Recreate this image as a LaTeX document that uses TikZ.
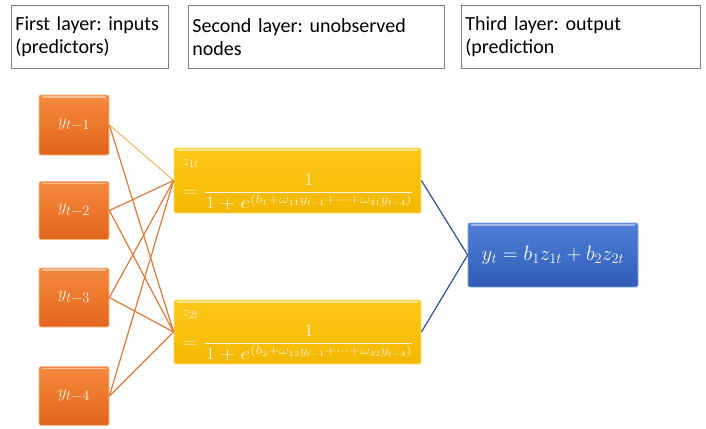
\documentclass[tikz,border=0pt]{standalone}
\usepackage{fontspec}
\usepackage{amsmath}
\usepackage{graphicx}
\setmainfont{Carlito}
\frenchspacing
\definecolor{hdrline}{HTML}{808080}
\definecolor{orgtop}{HTML}{F58A3E}
\definecolor{orgbot}{HTML}{E2641C}
\definecolor{orgline}{HTML}{DC7A3A}
\definecolor{orglight}{HTML}{F2B45A}
\definecolor{yeltop}{HTML}{FFC81A}
\definecolor{yelbot}{HTML}{F2B800}
\definecolor{blutop}{HTML}{4F7FD6}
\definecolor{blubot}{HTML}{2F5DB8}
\definecolor{bluline}{HTML}{2F4F8F}
\definecolor{boxtext}{HTML}{FFF3DC}
\tikzset{
  hdr/.style={draw=hdrline, line width=0.8pt, align=left, inner sep=4pt,
    font=\fontsize{20}{23}\selectfont, anchor=north west},
  inbox/.style={rounded corners=2pt, draw=orgtop!60!white, line width=0.8pt,
    top color=orgtop, bottom color=orgbot, minimum width=70pt, minimum height=60pt,
    text=boxtext, font=\fontsize{19}{22}\selectfont},
  hidbox/.style={rounded corners=2pt, draw=yeltop!60!white, line width=0.8pt,
    top color=yeltop, bottom color=yelbot, minimum width=247pt},
  outbox/.style={rounded corners=2pt, draw=blutop!70!white, line width=0.8pt,
    top color=blutop, bottom color=blubot, minimum width=170pt, minimum height=64pt,
    text=white, font=\fontsize{20}{24}\selectfont},
  eqtext/.style={text=boxtext, inner sep=0pt},
  olink/.style={draw=orgline, line width=1.2pt},
  olinklt/.style={draw=orglight, line width=1pt},
  blink/.style={draw=bluline, line width=1.2pt},
  shine/.style={line width=1.6pt, line cap=round}
}
\begin{document}
\begin{tikzpicture}[x=1pt,y=-1pt]
\useasboundingbox (0,0) rectangle (706,428);
% header boxes
\node[hdr, text width=149pt, minimum height=63pt] (h1) at (11,5) {First layer: inputs\\(predictors)};
\node[hdr, text width=248pt, minimum height=63pt] (h2) at (188,5) {Second layer: unobserved\\nodes};
\node[hdr, text width=231pt, minimum height=63pt] (h3) at (461,5) {Third layer: output\\(prediction};
% input nodes
\node[inbox] (o1) at (74,125) {$y_{t-1}$};
\node[inbox, minimum height=58pt] (o2) at (74,210.5) {$y_{t-2}$};
\node[inbox, minimum height=59pt] (o3) at (74,297.5) {$y_{t-3}$};
\node[inbox, minimum height=59pt] (o4) at (74,396) {$y_{t-4}$};
% hidden nodes
\node[hidbox, minimum height=65pt] (z1) at (297.5,180.5) {};
\node[hidbox, minimum height=64pt] (z2) at (297.5,332) {};
% output node
\node[outbox] (b) at (553,255) {$y_t = b_1 z_{1t} + b_2 z_{2t}$};
% highlight strips along top edges
\foreach \n in {o1,o2,o3,o4}
  \draw[shine, draw=orgtop!55!white] ([xshift=4pt,yshift=-2.5pt]\n.north west) -- ([xshift=-4pt,yshift=-2.5pt]\n.north east);
\foreach \n in {z1,z2}
  \draw[shine, draw=yeltop!50!white] ([xshift=4pt,yshift=-2.5pt]\n.north west) -- ([xshift=-4pt,yshift=-2.5pt]\n.north east);
\draw[shine, draw=blutop!55!white] ([xshift=4pt,yshift=-2.5pt]b.north west) -- ([xshift=-4pt,yshift=-2.5pt]b.north east);
% links
\draw[olinklt] (o1.east) -- (z1.west);
\draw[olink] (o1.east) -- (z2.west);
\draw[olink] (o2.east) -- (z1.west);
\draw[olink] (o2.east) -- (z2.west);
\draw[olink] (o3.east) -- (z1.west);
\draw[olink] (o3.east) -- (z2.west);
\draw[olink] (o4.east) -- (z1.west);
\draw[olink] (o4.east) -- (z2.west);
\draw[blink] (z1.east) -- (b.west);
\draw[blink] (z2.east) -- (b.west);
% hidden node texts
\node[eqtext, anchor=west, font=\fontsize{15}{16}\selectfont] (z1a) at (182,163) {$z_{1t}$};
\node[eqtext, anchor=west, font=\fontsize{17}{19}\selectfont] (z1b) at (182,192)
  {\scalebox{1.25}[1]{$=\dfrac{1}{1+e^{(b_1+\omega_{11}y_{t-1}+\dots+\omega_{41}y_{t-4})}}$}};
\node[eqtext, anchor=west, font=\fontsize{15}{16}\selectfont] (z2a) at (182,314) {$z_{2t}$};
\node[eqtext, anchor=west, font=\fontsize{17}{19}\selectfont] (z2b) at (182,343)
  {\scalebox{1.25}[1]{$=\dfrac{1}{1+e^{(b_2+\omega_{12}y_{t-1}+\dots+\omega_{42}y_{t-4})}}$}};
\end{tikzpicture}
\end{document}
